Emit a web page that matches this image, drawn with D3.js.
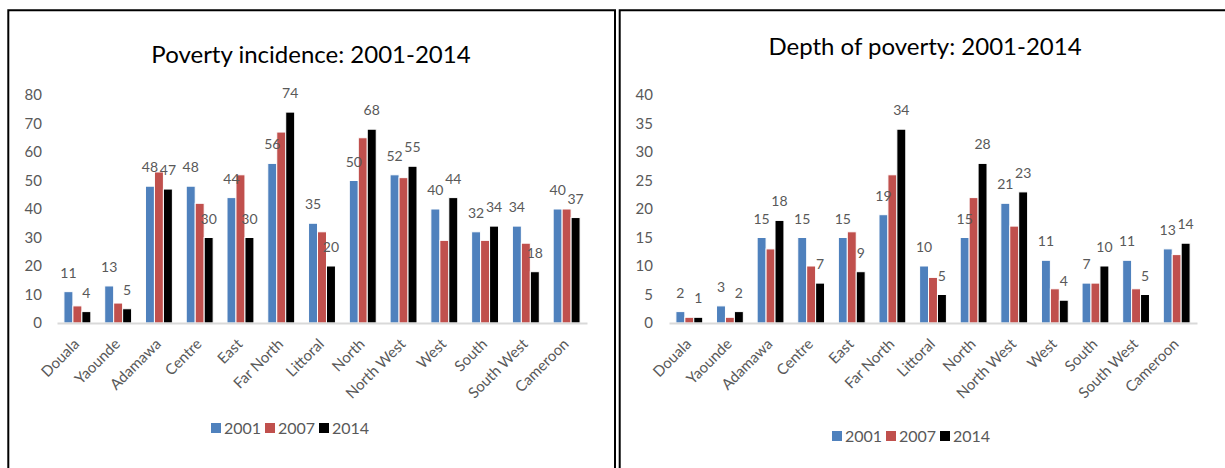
<!DOCTYPE html>
<html>
<head>
<meta charset="utf-8">
<script src="https://cdn.jsdelivr.net/npm/d3@7"></script>
<style>
  body { margin: 0; background: #fff; }
  svg { display: block; font-family: Lato, 'Open Sans', sans-serif; }
</style>
</head>
<body>
<div id="chart"></div>
<script>
// data
const regions = ['Douala', 'Yaounde', 'Adamawa', 'Centre', 'East', 'Far North', 'Littoral',
  'North', 'North West', 'West', 'South', 'South West', 'Cameroon'];
const years = ['2001', '2007', '2014'];
const labelledYears = ['2001', '2014'];

const incidence2001 = [11, 13, 48, 48, 44, 56, 35, 50, 52, 40, 32, 34, 40];
const incidence2007 = [6, 7, 53, 42, 52, 67, 32, 65, 51, 29, 29, 28, 40];
const incidence2014 = [4, 5, 47, 30, 30, 74, 20, 68, 55, 44, 34, 18, 37];
const incidenceTicks = [0, 10, 20, 30, 40, 50, 60, 70, 80];

const depth2001 = [2, 3, 15, 15, 15, 19, 10, 15, 21, 11, 7, 11, 13];
const depth2007 = [1, 1, 13, 10, 16, 26, 8, 22, 17, 6, 7, 6, 12];
const depth2014 = [1, 2, 18, 7, 9, 34, 5, 28, 23, 4, 10, 5, 14];
const depthTicks = [0, 5, 10, 15, 20, 25, 30, 35, 40];

const colors = { '2001': '#4F81BD', '2007': '#C0504D', '2014': '#000000' };
const textGrey = '#595959';

const W = 1225, H = 468;
const svg = d3.select('#chart').append('svg').attr('width', W).attr('height', H);

// panel frames
svg.append('path')
  .attr('d', 'M8.3,470 V10.3 H615 V470')
  .attr('fill', 'none').attr('stroke', '#000').attr('stroke-width', 2);
svg.append('path')
  .attr('d', 'M619.7,470 V10.3 H1226')
  .attr('fill', 'none').attr('stroke', '#000').attr('stroke-width', 2);

function barChart(cfg) {
  const rows = regions.map((r, i) => ({
    region: r,
    '2001': cfg.series[0][i],
    '2007': cfg.series[1][i],
    '2014': cfg.series[2][i],
  }));

  const x0 = d3.scaleBand().domain(regions).range([cfg.left, cfg.right]);
  const bw = x0.bandwidth();
  const x1 = d3.scaleBand().domain(years).range([bw * 0.17, bw * 0.83]);
  const y = d3.scaleLinear()
    .domain([0, d3.max(cfg.ticks)])
    .range([cfg.base, cfg.top]);

  const g = svg.append('g');

  g.append('text')
    .text(cfg.title)
    .attr('x', cfg.titleX).attr('y', cfg.titleY)
    .attr('text-anchor', 'middle')
    .style('font-size', '24px')
    .attr('fill', '#000');

  // y axis, labels only
  const yAxis = g.append('g')
    .attr('transform', `translate(${cfg.left - cfg.tickGap},0)`)
    .call(d3.axisLeft(y).tickValues(cfg.ticks).tickSize(0).tickPadding(0));
  yAxis.select('.domain').remove();
  yAxis.selectAll('text')
    .style('font-family', 'Lato, sans-serif')
    .style('font-size', '15px')
    .attr('fill', textGrey);

  // bars
  const groups = g.selectAll('.grp').data(rows).enter()
    .append('g').attr('class', 'grp')
    .attr('transform', (d) => `translate(${x0(d.region)},0)`);

  groups.selectAll('rect')
    .data((d) => years.map((k) => ({ key: k, value: d[k] })))
    .enter().append('rect')
    .attr('x', (d) => x1(d.key))
    .attr('width', x1.bandwidth())
    .attr('y', (d) => y(d.value))
    .attr('height', (d) => y(0) - y(d.value))
    .attr('fill', (d) => colors[d.key])
    .attr('stroke', '#fff')
    .attr('stroke-width', 1);

  groups.selectAll('.val')
    .data((d) => labelledYears.map((k) => ({ key: k, value: d[k] })))
    .enter().append('text')
    .attr('class', 'val')
    .text((d) => d.value)
    .attr('x', (d) => x1(d.key) + x1.bandwidth() / 2)
    .attr('y', (d) => y(d.value) - 14)
    .attr('text-anchor', 'middle')
    .style('font-size', '14px')
    .attr('fill', textGrey);

  // x axis
  const xAxis = g.append('g')
    .attr('transform', `translate(0,${cfg.base})`)
    .call(d3.axisBottom(x0).tickSize(0).tickSizeOuter(0));
  xAxis.select('.domain')
    .attr('stroke', '#D9D9D9').attr('stroke-width', 2);
  xAxis.selectAll('text')
    .style('font-family', 'Lato, sans-serif')
    .style('font-size', '15px')
    .attr('fill', textGrey)
    .attr('text-anchor', 'end')
    .attr('y', 0).attr('dy', 0)
    .attr('transform', 'translate(3,22) rotate(-45)');

  // legend
  const leg = g.append('g')
    .attr('transform', `translate(${cfg.legendX},${cfg.legendY})`);
  const item = leg.selectAll('g').data(years).enter().append('g')
    .attr('transform', (d, i) => `translate(${i * 54},0)`);
  item.append('rect')
    .attr('x', 0).attr('y', -5)
    .attr('width', 10).attr('height', 10)
    .attr('fill', (d) => colors[d]);
  item.append('text')
    .text((d) => d)
    .attr('x', 13).attr('y', 6)
    .style('font-size', '16px')
    .attr('fill', textGrey);
}

barChart({
  title: 'Poverty incidence: 2001-2014',
  series: [incidence2001, incidence2007, incidence2014],
  ticks: incidenceTicks,
  left: 57, right: 587, top: 95, base: 323, tickGap: 15,
  titleX: 311, titleY: 63,
  legendX: 211, legendY: 428,
});

barChart({
  title: 'Depth of poverty: 2001-2014',
  series: [depth2001, depth2007, depth2014],
  ticks: depthTicks,
  left: 669, right: 1197, top: 95, base: 323, tickGap: 16,
  titleX: 925, titleY: 55,
  legendX: 832, legendY: 436,
});
</script>
</body>
</html>
